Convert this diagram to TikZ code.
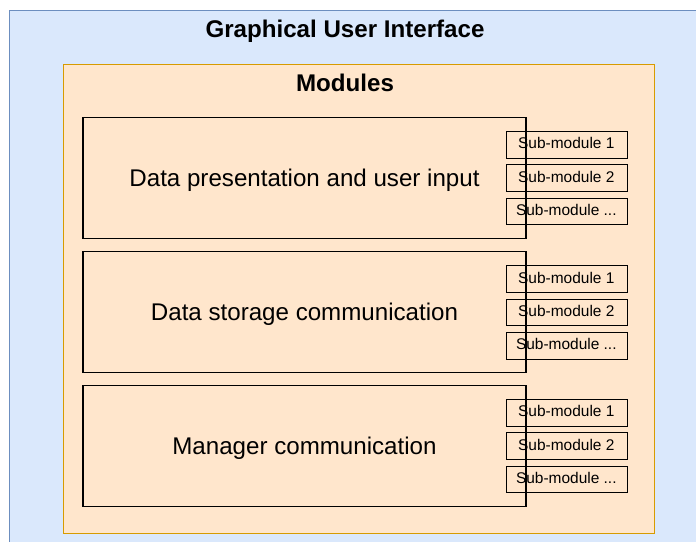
\documentclass[tikz,border=0pt]{standalone}
\usepackage{fontspec}
\setmainfont{Liberation Sans}
\definecolor{guifill}{HTML}{DAE8FC}
\definecolor{guidraw}{HTML}{6C8EBF}
\definecolor{modfill}{HTML}{FFE6CC}
\definecolor{moddraw}{HTML}{D79B00}
\begin{document}
\begin{tikzpicture}[x=0.75pt,y=-0.75pt,
  layer/.style={line width=0.9pt},
  mainbox/.style={draw=black,line width=0.8pt,minimum width=443*0.75pt,minimum height=121*0.75pt,inner sep=0pt},
  maintext/.style={anchor=base,inner sep=0pt,font=\fontsize{18.1}{21}\selectfont},
  subbox/.style={draw=black,line width=0.8pt,minimum width=121*0.75pt,minimum height=26.7*0.75pt,inner sep=0pt},
  subtext/.style={anchor=base,inner sep=0pt,font=\fontsize{11.6}{14}\selectfont},
  title/.style={anchor=base,inner sep=0pt,font=\bfseries\fontsize{18.1}{21}\selectfont}]
\useasboundingbox (0,0) rectangle (696,542);
\clip (0,0) rectangle (696,542);
% outer GUI layer
\draw[layer,fill=guifill,draw=guidraw] (9.5,10.5) rectangle (720,560);
\node[title] (gui) at (345,37.7) {Graphical User Interface};
% modules layer
\draw[layer,fill=modfill,draw=moddraw] (63.5,64.5) rectangle (654.5,533.5);
\node[title] (mods) at (345,91.5) {Modules};
% module boxes and their captions
\foreach \n/\y/\t in {1/178/Data presentation and user input,
                      2/312.2/Data storage communication,
                      3/446.4/Manager communication}{
  \node[mainbox] (m\n) at (304.5,\y) {};
  \node[maintext] (m\n t) at (304.5,\y+8) {\t};
}
% sub-module boxes
\foreach \m/\y in {a/144.7,b/279,c/412.7}{
  \node[subbox] (\m1) at (566.8,\y) {};
  \node[subtext] (\m1t) at (566.3,\y+4) {Sub-module 1};
  \node[subbox] (\m2) at (566.8,\y+33.4) {};
  \node[subtext] (\m2t) at (566.3,\y+37.4) {Sub-module 2};
  \node[subbox] (\m3) at (566.8,\y+66.8) {};
  \node[subtext] (\m3t) at (566.3,\y+70.8) {Sub-module ...};
}
\end{tikzpicture}
\end{document}
